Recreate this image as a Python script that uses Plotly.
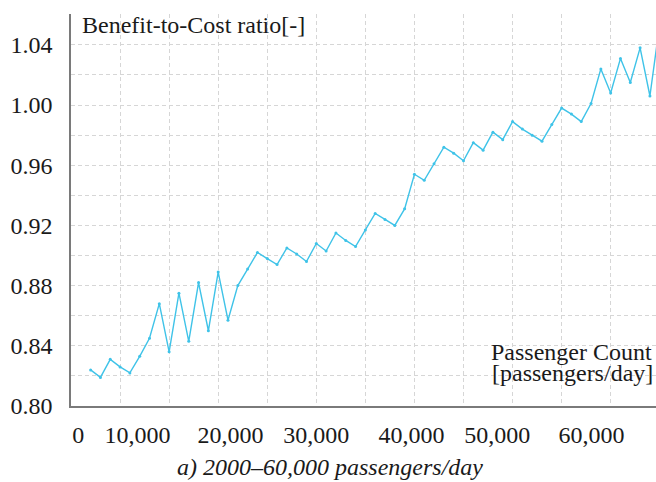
import plotly.graph_objects as go

# Passenger count (passengers/day) and benefit-to-cost ratio
passengers = list(range(2000, 61000, 1000))
bcr = [
    0.824, 0.819, 0.831, 0.826, 0.822, 0.833, 0.845, 0.868, 0.836, 0.875,
    0.843, 0.882, 0.850, 0.889, 0.857, 0.880, 0.891, 0.902, 0.898, 0.894,
    0.905, 0.901, 0.896, 0.908, 0.903, 0.915, 0.910, 0.906, 0.917, 0.928,
    0.924, 0.920, 0.931, 0.954, 0.950, 0.961, 0.972, 0.968, 0.963, 0.975,
    0.970, 0.982, 0.977, 0.989, 0.984, 0.980, 0.976, 0.987, 0.998, 0.994,
    0.989, 1.001, 1.024, 1.008, 1.031, 1.015, 1.038, 1.006, 1.054,
]

x_tick_text = ["0", "10,000", "20,000", "30,000", "40,000", "50,000", "60,000"]
x_tick_pos = [750, 6770, 16250, 25000, 34700, 43450, 53050]
y_tick_vals = [0.80, 0.84, 0.88, 0.92, 0.96, 1.00, 1.04]
y_tick_text = ["0.80", "0.84", "0.88", "0.92", "0.96", "1.00", "1.04"]

FONT = "Liberation Serif"
LINE_COLOR = "#3fc3e8"
GRID = "#d6d6d6"
DASH = "4px,3px"
TXT = "#1a1a1a"

fig = go.Figure()
fig.add_trace(go.Scatter(
    x=passengers, y=bcr, mode="lines+markers",
    line=dict(color=LINE_COLOR, width=1.4),
    marker=dict(color=LINE_COLOR, size=3),
    showlegend=False, hoverinfo="x+y",
))

fig.update_layout(
    width=656, height=482,
    margin=dict(l=71, r=0, t=14, b=76),
    paper_bgcolor="white", plot_bgcolor="white",
    font=dict(family=FONT, size=24, color=TXT),
    xaxis=dict(
        range=[0, 59620], automargin=False,
        tickmode="array", tickvals=x_tick_pos, ticktext=x_tick_text,
        showgrid=False, zeroline=False,
        showline=True, linecolor="#7a7a7a", linewidth=1.5,
        ticks="", ticklabelstandoff=6,
        tickfont=dict(family=FONT, size=24, color=TXT),
        minor=dict(tick0=0, dtick=5000, showgrid=True, gridcolor=GRID,
                   griddash=DASH, gridwidth=1, ticks=""),
    ),
    yaxis=dict(
        range=[0.80, 1.0605], automargin=False,
        tickmode="array", tickvals=y_tick_vals, ticktext=y_tick_text,
        showgrid=True, gridcolor=GRID, griddash=DASH, gridwidth=1,
        zeroline=False,
        showline=True, linecolor="#7a7a7a", linewidth=1.5,
        ticks="", ticklabelstandoff=12,
        tickfont=dict(family=FONT, size=24, color=TXT),
        minor=dict(tick0=0.80, dtick=0.02, showgrid=True, gridcolor=GRID,
                   griddash=DASH, gridwidth=1, ticks=""),
    ),
    annotations=[
        dict(text="Benefit-to-Cost ratio[-]", xref="paper", yref="paper",
             x=0.015, y=0.972, xanchor="left", yanchor="middle",
             showarrow=False, font=dict(family=FONT, size=24, color=TXT)),
        dict(text="Passenger Count", xref="paper", yref="paper",
             x=0.997, y=0.138, xanchor="right", yanchor="middle",
             showarrow=False, font=dict(family=FONT, size=24, color=TXT)),
        dict(text="[passengers/day]", xref="paper", yref="paper",
             x=0.999, y=0.084, xanchor="right", yanchor="middle",
             showarrow=False, font=dict(family=FONT, size=24, color=TXT)),
        dict(text="<i>a) 2000–60,000 passengers/day</i>", xref="paper", yref="paper",
             x=0.442, y=-0.156, xanchor="center", yanchor="middle",
             showarrow=False, font=dict(family=FONT, size=24, color=TXT)),
    ],
)

fig.write_html("out.html", config={"displayModeBar": False},
               post_script="document.body.style.margin='0px';")
